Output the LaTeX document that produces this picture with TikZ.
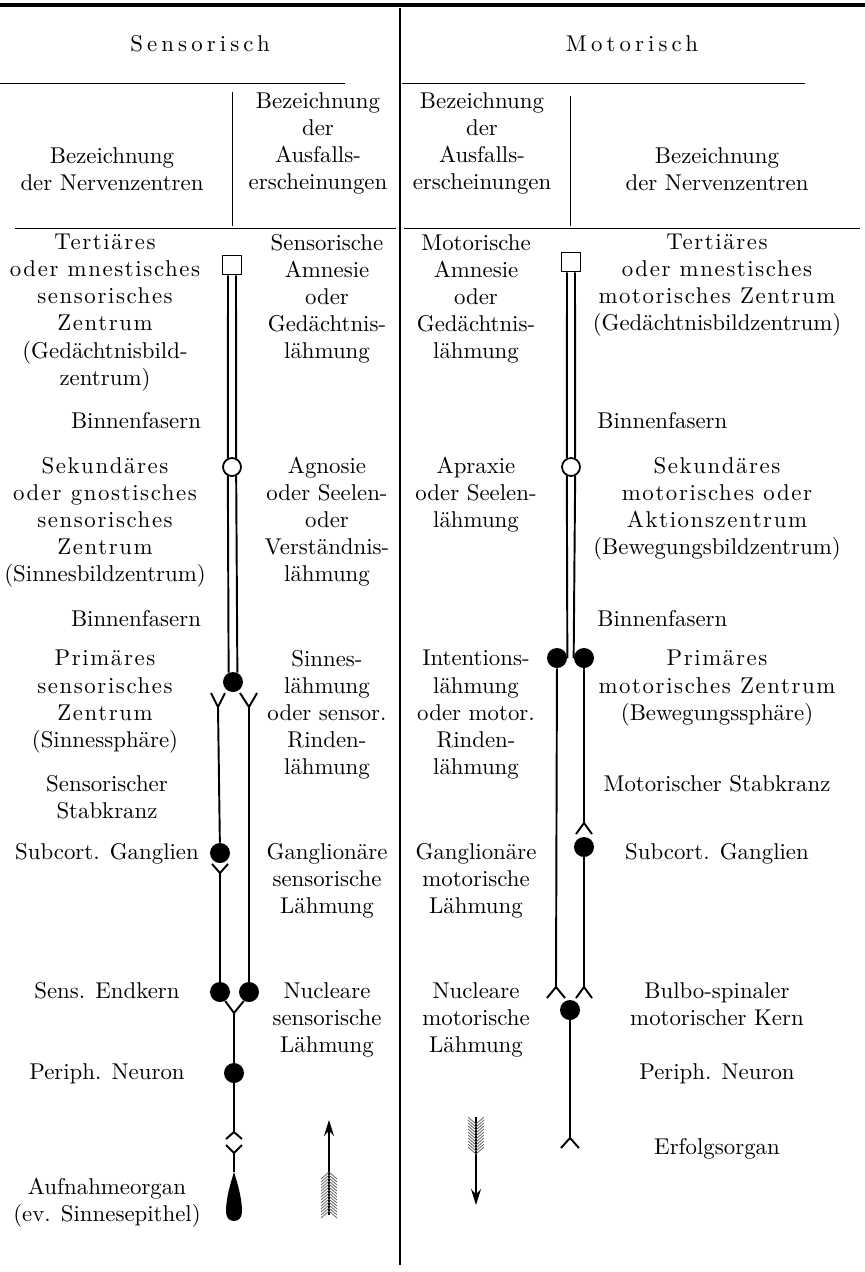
\documentclass[tikz,border=0pt]{standalone}
\usepackage{fontspec}
\setmainfont{lmroman10-regular}[Extension=.otf,BoldFont=lmroman10-bold,ItalicFont=lmroman10-italic]
\usetikzlibrary{arrows.meta}
\newcommand{\sperr}[1]{{\addfontfeature{LetterSpace=7}#1}}
\newcommand{\weit}[1]{{\addfontfeature{LetterSpace=18}#1}}
\begin{document}
\begin{tikzpicture}[x=0.02cm,y=-0.02cm,font=\fontsize{13}{15.4}\selectfont,
    lbl/.style={align=center,inner sep=0pt,anchor=north},
    faser/.style={line width=1.1pt},
    feld/.style={draw,line width=1.1pt,fill=white,inner sep=0pt,minimum size=0.38cm},
    hohl/.style={circle,draw,line width=1pt,fill=white,inner sep=0pt,minimum size=0.36cm},
    soma/.style={circle,fill=black,inner sep=0pt,minimum size=0.40cm},
    feder/.style={gray!70!black,line width=0.4pt}]
\useasboundingbox (0,0) rectangle (865,1272);

% Linien der Tabelle
\coordinate (ol) at (0,5);   \coordinate (or) at (865,5);
\coordinate (mo) at (400,8); \coordinate (mu) at (400,1265);
\coordinate (h1l) at (0,83); \coordinate (h1m) at (345,83);
\coordinate (h1n) at (402,83); \coordinate (h1r) at (805,83);
\coordinate (h2l) at (15,228); \coordinate (h2m) at (396,228);
\coordinate (h2n) at (404,228); \coordinate (h2r) at (860,228);
\coordinate (s1o) at (232,92); \coordinate (s1u) at (232,226);
\coordinate (s2o) at (570,96); \coordinate (s2u) at (570,226);
\draw[line width=2pt] (ol) -- (or);
\draw[line width=1.5pt] (mo) -- (mu);
\draw[line width=0.5pt] (h1l) -- (h1m) (h1n) -- (h1r);
\draw[line width=0.5pt] (h2l) -- (h2m) (h2n) -- (h2r);
\draw[line width=0.4pt] (s1o) -- (s1u) (s2o) -- (s2u);

% Kopf
\node[lbl] (sens) at (200,35) {\weit{Sensorisch}};
\node[lbl] (mot) at (632,35) {\weit{Motorisch}};
\node[lbl] (kopf1) at (112,147) {Bezeichnung\\der Nervenzentren};
\node[lbl] (kopf2) at (318,92) {Bezeichnung\\der\\Ausfalls-\\erscheinungen};
\node[lbl] (kopf3) at (482,92) {Bezeichnung\\der\\Ausfalls-\\erscheinungen};
\node[lbl] (kopf4) at (717,147) {Bezeichnung\\der Nervenzentren};

% sensorische Zentren
\node[lbl] (tert) at (105,234) {\sperr{Tertiäres}\\\sperr{oder mnestisches}\\\sperr{sensorisches}\\\sperr{Zentrum}\\(Gedächtnisbild-\\zentrum)};
\node[lbl] (bin1) at (136,412) {Binnenfasern};
\node[lbl] (sek) at (105,457) {\sperr{Sekundäres}\\\sperr{oder gnostisches}\\\sperr{sensorisches}\\\sperr{Zentrum}\\(Sinnesbildzentrum)};
\node[lbl] (bin2) at (136,610) {Binnenfasern};
\node[lbl] (prim) at (105,650) {\sperr{Primäres}\\\sperr{sensorisches}\\\sperr{Zentrum}\\(Sinnessphäre)};
\node[lbl] (stab) at (107,775) {Sensorischer\\Stabkranz};
\node[lbl] (subc) at (107,843) {Subcort. Ganglien};
\node[lbl] (endk) at (107,982) {Sens. Endkern};
\node[lbl] (peri) at (107,1063) {Periph. Neuron};
\node[lbl] (aufn) at (107,1178) {Aufnahmeorgan\\(ev. Sinnesepithel)};

% sensorische Ausfaelle
\node[lbl] (amn1) at (327,234) {Sensorische\\Amnesie\\oder\\Gedächtnis-\\lähmung};
\node[lbl] (agn) at (327,457) {Agnosie\\oder Seelen-\\oder\\Verständnis-\\lähmung};
\node[lbl] (sinl) at (327,650) {Sinnes-\\lähmung\\oder sensor.\\Rinden-\\lähmung};
\node[lbl] (gan1) at (327,843) {Ganglionäre\\sensorische\\Lähmung};
\node[lbl] (nuc1) at (327,982) {Nucleare\\sensorische\\Lähmung};

% motorische Ausfaelle
\node[lbl] (amn2) at (476,234) {Motorische\\Amnesie\\oder\\Gedächtnis-\\lähmung};
\node[lbl] (apr) at (476,457) {Apraxie\\oder Seelen-\\lähmung};
\node[lbl] (intl) at (476,650) {Intentions-\\lähmung\\oder motor.\\Rinden-\\lähmung};
\node[lbl] (gan2) at (476,843) {Ganglionäre\\motorische\\Lähmung};
\node[lbl] (nuc2) at (476,982) {Nucleare\\motorische\\Lähmung};

% motorische Zentren
\node[lbl] (tert2) at (717,234) {\sperr{Tertiäres}\\\sperr{oder mnestisches}\\\sperr{motorisches Zentrum}\\(Gedächtnisbildzentrum)};
\node[lbl,anchor=north west] (bin3) at (597,412) {Binnenfasern};
\node[lbl] (sek2) at (717,457) {\sperr{Sekundäres}\\\sperr{motorisches oder}\\\sperr{Aktionszentrum}\\(Bewegungsbildzentrum)};
\node[lbl,anchor=north west] (bin4) at (597,610) {Binnenfasern};
\node[lbl] (prim2) at (717,650) {\sperr{Primäres}\\\sperr{motorisches Zentrum}\\(Bewegungssphäre)};
\node[lbl] (stab2) at (717,775) {Motorischer Stabkranz};
\node[lbl] (subc2) at (717,843) {Subcort. Ganglien};
\node[lbl] (bulb) at (717,982) {Bulbo-spinaler\\motorischer Kern};
\node[lbl] (peri2) at (717,1063) {Periph. Neuron};
\node[lbl] (erf) at (717,1138) {Erfolgsorgan};

% sensorische Bahn
\node[feld] (lsq) at (232,265) {};
\node[hohl] (lsek) at (232,467) {};
\node[soma] (lprim) at (233,682) {};
\node[soma] (lsub) at (220,853) {};
\node[soma] (lend1) at (220,992) {};
\node[soma] (lend2) at (249,992) {};
\node[soma] (lper) at (234,1073) {};
\draw[faser] ([xshift=-0.08cm]lsq.south) -- (lsek.115);
\draw[faser] ([xshift=0.08cm]lsq.south) -- (lsek.65);
\draw[faser] (lsek.245) -- (lprim.115);
\draw[faser] (lsek.295) -- (lprim.65);
\coordinate (lga) at (218,707); \coordinate (lga1) at (211,693); \coordinate (lga2) at (225,693);
\coordinate (lgb) at (249,707); \coordinate (lgb1) at (240,693); \coordinate (lgb2) at (257,693);
\coordinate (lgc) at (220,873); \coordinate (lgc1) at (212,864); \coordinate (lgc2) at (228,864);
\coordinate (lgd) at (234,1013);
\draw[faser] (lga1) -- (lga) -- (lga2);
\draw[faser] (lgb1) -- (lgb) -- (lgb2);
\draw[faser] (lga) -- (lsub);
\draw[faser] (lgc1) -- (lgc) -- (lgc2);
\draw[faser] (lgc) -- (lend1);
\draw[faser] (lgb) -- (lend2);
\draw[faser] (lend1.300) -- (lgd) -- (lend2.240);
\draw[faser] (lgd) -- (lper);
\coordinate (lch1) at (234,1132); \coordinate (lch2) at (234,1153);
\draw[faser] (lper) -- (lch1);
\draw[faser] (226,1139) -- (lch1) -- (242,1139);
\draw[faser] (226,1145) -- (lch2) -- (242,1145);
\coordinate (lorg) at (234,1172);
\draw[faser] (lch2) -- (lorg);
\fill (lorg) .. controls (238,1185) and (242,1198) .. (242,1212)
  .. controls (242,1224) and (226,1224) .. (226,1212)
  .. controls (226,1198) and (230,1185) .. (lorg);

% motorische Bahn
\node[feld] (rsq) at (571,262) {};
\node[hohl] (rsek) at (571,467) {};
\node[soma] (rprim1) at (557,658) {};
\node[soma] (rprim2) at (584,658) {};
\node[soma] (rsub) at (584,847) {};
\node[soma] (rkern) at (570,1010) {};
\draw[faser] ([xshift=-0.08cm]rsq.south) -- (rsek.115);
\draw[faser] ([xshift=0.08cm]rsq.south) -- (rsek.65);
\draw[faser] (rsek.245) -- (rprim1.east);
\draw[faser] (rsek.295) -- (rprim2.west);
\coordinate (rch1) at (556,987); \coordinate (rch2) at (584,823); \coordinate (rch3) at (584,987);
\draw[faser] (rprim1) -- (rch1);
\draw[faser] (547,998) -- (rch1) -- (565,998);
\draw[faser] (rprim2) -- (rch2);
\draw[faser] (576,834) -- (rch2) -- (592,834);
\draw[faser] (rsub) -- (rch3);
\draw[faser] (576,998) -- (rch3) -- (592,998);
\coordinate (rend) at (570,1138);
\draw[faser] (rkern) -- (rend);
\draw[faser] (561,1148) -- (rend) -- (579,1148);

% Pfeile
\coordinate (auf1) at (329,1215); \coordinate (auf2) at (329,1120);
\draw[line width=0.9pt,-{Stealth[length=0.32cm,width=0.2cm]}] (auf1) -- (auf2);
\foreach \i in {0,...,13}
  \draw[feder] (329,1172+3*\i) -- +(-8,7) (329,1172+3*\i) -- +(8,7);
\coordinate (ab1) at (476,1117); \coordinate (ab2) at (476,1205);
\draw[line width=0.9pt,-{Stealth[length=0.32cm,width=0.2cm]}] (ab1) -- (ab2);
\foreach \i in {0,...,10}
  \draw[feder] (476,1124+3*\i) -- +(-8,-7) (476,1124+3*\i) -- +(8,-7);
\end{tikzpicture}
\end{document}
